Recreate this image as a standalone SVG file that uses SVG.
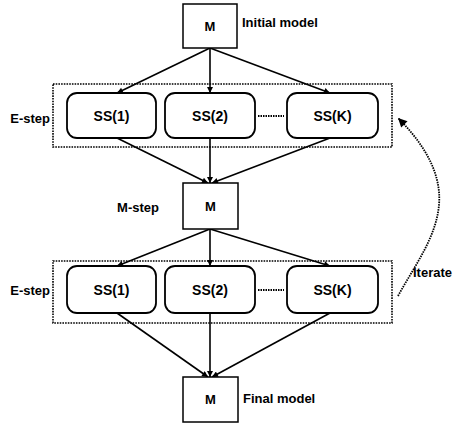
<svg xmlns="http://www.w3.org/2000/svg" width="459" height="424" viewBox="0 0 459 424">
<defs>
<style>
.t{font-family:"Liberation Sans",Arial,sans-serif;font-size:13px;font-weight:bold;fill:#000}
.s{font-size:14px}
.c{text-anchor:middle}
.e{text-anchor:end}
.mbox{fill:#fff;stroke:#000;stroke-width:1.5}
.ss{fill:#fff;stroke:#000;stroke-width:1.8}
.grp{fill:none;stroke:#000;stroke-width:1.6;stroke-dasharray:1.6 1.1}
.ln{fill:none;stroke:#000;stroke-width:1.6}
.dots{fill:none;stroke:#000;stroke-width:1.8;stroke-dasharray:1.5 1}
</style>
<marker id="ah" viewBox="0 0 10 10" refX="10" refY="5" markerWidth="8" markerHeight="6" markerUnits="userSpaceOnUse" orient="auto">
<path d="M0,0 L10,5 L0,10 z" fill="#000"/>
</marker>
<marker id="ah2" viewBox="0 0 10 10" refX="10" refY="5" markerWidth="11" markerHeight="9" markerUnits="userSpaceOnUse" orient="auto">
<path d="M0,0 L10,5 L0,10 z" fill="#000"/>
</marker>
</defs>
<rect width="459" height="424" fill="#fff"/>

<g id="estep1-group">
<rect class="grp" x="53" y="84" width="339" height="63"/>
<text class="t e" x="50" y="122.5">E-step</text>
</g>
<g id="estep2-group">
<rect class="grp" x="53" y="261" width="339" height="62"/>
<text class="t e" x="50" y="295">E-step</text>
</g>

<g id="connectors">
<line class="ln" x1="210" y1="48" x2="117" y2="93" marker-end="url(#ah)"/>
<line class="ln" x1="210" y1="48" x2="210" y2="93" marker-end="url(#ah)"/>
<line class="ln" x1="210" y1="48" x2="330" y2="93" marker-end="url(#ah)"/>
<line class="ln" x1="117" y1="138" x2="208" y2="183" marker-end="url(#ah)"/>
<line class="ln" x1="210" y1="138" x2="210" y2="183" marker-end="url(#ah)"/>
<line class="ln" x1="330" y1="138" x2="212" y2="183" marker-end="url(#ah)"/>
<line class="ln" x1="210" y1="229" x2="117" y2="266" marker-end="url(#ah)"/>
<line class="ln" x1="210" y1="229" x2="210" y2="266" marker-end="url(#ah)"/>
<line class="ln" x1="210" y1="229" x2="330" y2="266" marker-end="url(#ah)"/>
<line class="ln" x1="117" y1="313" x2="208" y2="377" marker-end="url(#ah)"/>
<line class="ln" x1="210" y1="313" x2="210" y2="377" stroke-width="1.1" marker-end="url(#ah)"/>
<line class="ln" x1="330" y1="313" x2="212" y2="377" marker-end="url(#ah)"/>
<line class="dots" x1="258" y1="116" x2="284" y2="116"/>
<line class="dots" x1="258" y1="290" x2="284" y2="290"/>
<path class="dots" stroke-width="2.2" d="M398,296 C415,265 436,238 439,205 C442,170 420,140 398,118" marker-end="url(#ah2)"/>
</g>

<g id="m-initial">
<rect class="mbox" x="183" y="4" width="54" height="44"/>
<text class="t c" x="210" y="30.5">M</text>
<text class="t" x="242" y="26.5">Initial model</text>
</g>
<g id="ss1-a"><rect class="ss" x="67" y="93" width="89" height="45" rx="10"/><text class="t s c" x="111.5" y="121">SS(1)</text></g>
<g id="ss2-a"><rect class="ss" x="165" y="93" width="90" height="45" rx="10"/><text class="t s c" x="210" y="121">SS(2)</text></g>
<g id="ssk-a"><rect class="ss" x="287" y="93" width="91" height="45" rx="10"/><text class="t s c" x="332.5" y="121">SS(K)</text></g>
<g id="m-step">
<rect class="mbox" x="183" y="183" width="55" height="46"/>
<text class="t c" x="210.5" y="210.5">M</text>
<text class="t e" x="159" y="211.5">M-step</text>
</g>
<g id="ss1-b"><rect class="ss" x="67" y="266" width="89" height="47" rx="10"/><text class="t s c" x="111.5" y="295">SS(1)</text></g>
<g id="ss2-b"><rect class="ss" x="165" y="266" width="90" height="47" rx="10"/><text class="t s c" x="210" y="295">SS(2)</text></g>
<g id="ssk-b"><rect class="ss" x="287" y="266" width="91" height="47" rx="10"/><text class="t s c" x="332.5" y="295">SS(K)</text></g>
<g id="m-final">
<rect class="mbox" x="183" y="377" width="55" height="45"/>
<text class="t c" x="210.5" y="403.5">M</text>
<text class="t" x="243" y="402.5">Final model</text>
</g>
<g id="iterate-label"><text class="t" x="413" y="276.5">Iterate</text></g>
</svg>
